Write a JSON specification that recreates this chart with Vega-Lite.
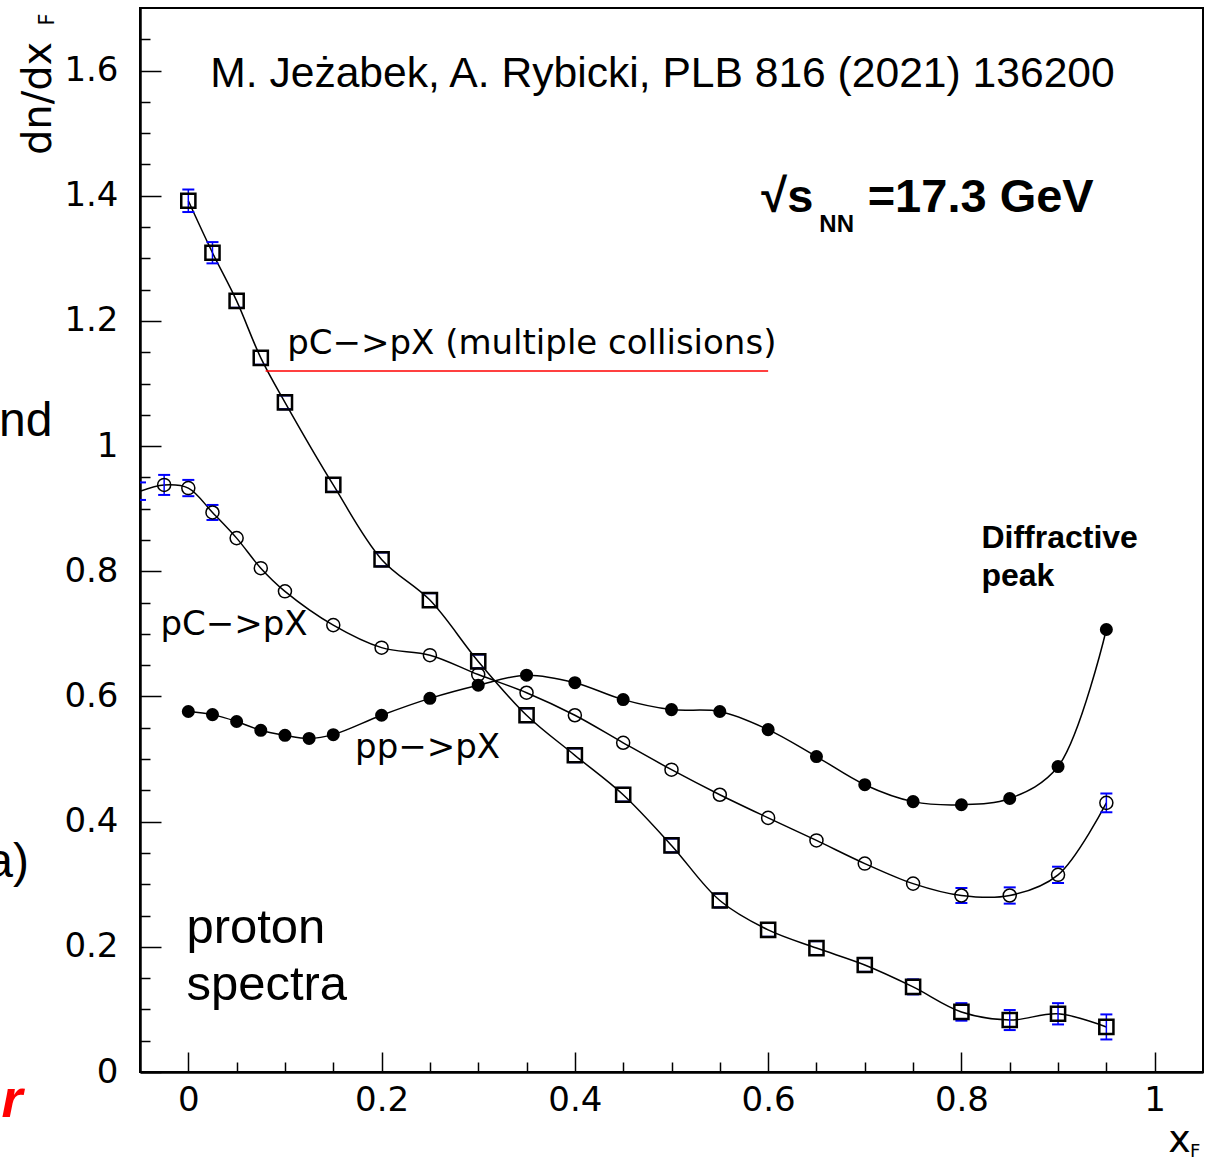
{
  "$schema": "https://vega.github.io/schema/vega-lite/v6.json",
  "width": 1063,
  "height": 1064,
  "autosize": {"type": "none"},
  "padding": {"left": 140, "top": 8, "right": 16, "bottom": 89},
  "background": "white",
  "config": {"view": {"stroke": "black", "strokeWidth": 2}, "axis": {"grid": false}},
  "datasets": {
    "pts": [
      {"s": "sq", "x": 0, "y": 1.392, "lo": 1.374, "hi": 1.410},
      {"s": "sq", "x": 0.025, "y": 1.309, "lo": 1.292, "hi": 1.326},
      {"s": "sq", "x": 0.05, "y": 1.232, "lo": 1.221, "hi": 1.243},
      {"s": "sq", "x": 0.075, "y": 1.141, "lo": 1.130, "hi": 1.152},
      {"s": "sq", "x": 0.1, "y": 1.070, "lo": 1.059, "hi": 1.081},
      {"s": "sq", "x": 0.15, "y": 0.938, "lo": 0.927, "hi": 0.949},
      {"s": "sq", "x": 0.2, "y": 0.819, "lo": 0.808, "hi": 0.830},
      {"s": "sq", "x": 0.25, "y": 0.754, "lo": 0.743, "hi": 0.765},
      {"s": "sq", "x": 0.3, "y": 0.656, "lo": 0.645, "hi": 0.667},
      {"s": "sq", "x": 0.35, "y": 0.570, "lo": 0.559, "hi": 0.581},
      {"s": "sq", "x": 0.4, "y": 0.506, "lo": 0.495, "hi": 0.517},
      {"s": "sq", "x": 0.45, "y": 0.443, "lo": 0.432, "hi": 0.454},
      {"s": "sq", "x": 0.5, "y": 0.362, "lo": 0.351, "hi": 0.373},
      {"s": "sq", "x": 0.55, "y": 0.274, "lo": 0.263, "hi": 0.285},
      {"s": "sq", "x": 0.6, "y": 0.227, "lo": 0.216, "hi": 0.238},
      {"s": "sq", "x": 0.65, "y": 0.198, "lo": 0.187, "hi": 0.209},
      {"s": "sq", "x": 0.7, "y": 0.171, "lo": 0.160, "hi": 0.182},
      {"s": "sq", "x": 0.75, "y": 0.136, "lo": 0.124, "hi": 0.148},
      {"s": "sq", "x": 0.8, "y": 0.096, "lo": 0.082, "hi": 0.110},
      {"s": "sq", "x": 0.85, "y": 0.083, "lo": 0.067, "hi": 0.099},
      {"s": "sq", "x": 0.9, "y": 0.093, "lo": 0.076, "hi": 0.110},
      {"s": "sq", "x": 0.95, "y": 0.072, "lo": 0.052, "hi": 0.092},
      {"s": "oc", "x": -0.05, "y": 0.928, "lo": 0.914, "hi": 0.942, "hide": true},
      {"s": "oc", "x": -0.025, "y": 0.938, "lo": 0.922, "hi": 0.954},
      {"s": "oc", "x": 0, "y": 0.933, "lo": 0.920, "hi": 0.946},
      {"s": "oc", "x": 0.025, "y": 0.894, "lo": 0.882, "hi": 0.906},
      {"s": "oc", "x": 0.05, "y": 0.853},
      {"s": "oc", "x": 0.075, "y": 0.805},
      {"s": "oc", "x": 0.1, "y": 0.768},
      {"s": "oc", "x": 0.15, "y": 0.714},
      {"s": "oc", "x": 0.2, "y": 0.678},
      {"s": "oc", "x": 0.25, "y": 0.666},
      {"s": "oc", "x": 0.3, "y": 0.635},
      {"s": "oc", "x": 0.35, "y": 0.606},
      {"s": "oc", "x": 0.4, "y": 0.570},
      {"s": "oc", "x": 0.45, "y": 0.526},
      {"s": "oc", "x": 0.5, "y": 0.483},
      {"s": "oc", "x": 0.55, "y": 0.443},
      {"s": "oc", "x": 0.6, "y": 0.406},
      {"s": "oc", "x": 0.65, "y": 0.370},
      {"s": "oc", "x": 0.7, "y": 0.333},
      {"s": "oc", "x": 0.75, "y": 0.301},
      {"s": "oc", "x": 0.8, "y": 0.282, "lo": 0.270, "hi": 0.294},
      {"s": "oc", "x": 0.85, "y": 0.282, "lo": 0.269, "hi": 0.295},
      {"s": "oc", "x": 0.9, "y": 0.315, "lo": 0.302, "hi": 0.328},
      {"s": "oc", "x": 0.95, "y": 0.430, "lo": 0.415, "hi": 0.445},
      {"s": "fc", "x": 0, "y": 0.576},
      {"s": "fc", "x": 0.025, "y": 0.571},
      {"s": "fc", "x": 0.05, "y": 0.560},
      {"s": "fc", "x": 0.075, "y": 0.546},
      {"s": "fc", "x": 0.1, "y": 0.538},
      {"s": "fc", "x": 0.125, "y": 0.533},
      {"s": "fc", "x": 0.15, "y": 0.539},
      {"s": "fc", "x": 0.2, "y": 0.570},
      {"s": "fc", "x": 0.25, "y": 0.597},
      {"s": "fc", "x": 0.3, "y": 0.618},
      {"s": "fc", "x": 0.35, "y": 0.634},
      {"s": "fc", "x": 0.4, "y": 0.622},
      {"s": "fc", "x": 0.45, "y": 0.595},
      {"s": "fc", "x": 0.5, "y": 0.579},
      {"s": "fc", "x": 0.55, "y": 0.576},
      {"s": "fc", "x": 0.6, "y": 0.547},
      {"s": "fc", "x": 0.65, "y": 0.504},
      {"s": "fc", "x": 0.7, "y": 0.459},
      {"s": "fc", "x": 0.75, "y": 0.432},
      {"s": "fc", "x": 0.8, "y": 0.427},
      {"s": "fc", "x": 0.85, "y": 0.437},
      {"s": "fc", "x": 0.9, "y": 0.488},
      {"s": "fc", "x": 0.95, "y": 0.707}
    ]
  },
  "encoding": {
    "x": {"field": "x", "type": "quantitative", "scale": {"domain": [-0.05, 1.05], "nice": false, "zero": false}, "axis": null},
    "y": {"field": "y", "type": "quantitative", "scale": {"domain": [0, 1.7], "nice": false, "zero": false}, "axis": null}
  },
  "layer": [
    {
      "data": {"name": "pts"},
      "mark": {"type": "line", "interpolate": "catmull-rom", "color": "black", "strokeWidth": 1.5, "clip": true},
      "encoding": {
        "x": {"field": "x", "type": "quantitative", "scale": {"domain": [-0.05, 1.05], "nice": false, "zero": false},
          "axis": {"orient": "bottom", "values": [0, 0.2, 0.4, 0.6, 0.8, 1], "format": "~g", "title": null,
            "tickSize": -20, "tickWidth": 1.5, "tickColor": "black", "domainColor": "black", "domainWidth": 2.5,
            "labelFont": "DejaVu Sans", "labelFontSize": 34, "labelColor": "black", "labelPadding": 31,
            "labelFlush": false, "labelOverlap": false}},
        "y": {"field": "y", "type": "quantitative", "scale": {"domain": [0, 1.7], "nice": false, "zero": false},
          "axis": {"orient": "left", "values": [0, 0.2, 0.4, 0.6, 0.8, 1, 1.2, 1.4, 1.6], "format": "~g", "title": null,
            "tickSize": -21, "tickWidth": 1.5, "tickColor": "black", "domainColor": "black", "domainWidth": 2.5,
            "labelFont": "DejaVu Sans", "labelFontSize": 34, "labelColor": "black", "labelPadding": 43,
            "labelFlush": false, "labelOverlap": false}},
        "detail": {"field": "s"}
      }
    },
    {
      "data": {"values": [{"x": 0.08, "x2": 0.6, "y": 1.12}]},
      "mark": {"type": "rule", "color": "#ff0000", "strokeWidth": 1.5},
      "encoding": {
        "x": {"field": "x", "type": "quantitative", "scale": {"domain": [-0.05, 1.05], "nice": false, "zero": false},
          "axis": {"orient": "bottom", "values": [0.05, 0.1, 0.15, 0.25, 0.3, 0.35, 0.45, 0.5, 0.55, 0.65, 0.7, 0.75, 0.85, 0.9, 0.95],
            "labels": false, "domain": false, "title": null, "tickSize": -10, "tickWidth": 1.5, "tickColor": "black"}},
        "x2": {"field": "x2"},
        "y": {"field": "y", "type": "quantitative", "scale": {"domain": [0, 1.7], "nice": false, "zero": false},
          "axis": {"orient": "left", "values": [0.05, 0.1, 0.15, 0.25, 0.3, 0.35, 0.45, 0.5, 0.55, 0.65, 0.7, 0.75, 0.85, 0.9, 0.95, 1.05, 1.1, 1.15, 1.25, 1.3, 1.35, 1.45, 1.5, 1.55, 1.65],
            "labels": false, "domain": false, "title": null, "tickSize": -10, "tickWidth": 1.5, "tickColor": "black"}}
      }
    },
    {
      "data": {"name": "pts"},
      "transform": [{"filter": "isValid(datum.lo) && datum.hi - datum.lo > 0.03"}],
      "mark": {"type": "rule", "color": "#0000ff", "strokeWidth": 1.5, "clip": true},
      "encoding": {"y": {"field": "lo", "type": "quantitative", "scale": {"domain": [0, 1.7], "nice": false, "zero": false}, "axis": null}, "y2": {"field": "hi"}}
    },
    {
      "data": {"name": "pts"},
      "transform": [{"filter": "isValid(datum.lo)"}],
      "mark": {"type": "tick", "orient": "horizontal", "size": 12, "thickness": 2, "color": "#0000ff", "opacity": 1, "clip": true},
      "encoding": {"y": {"field": "lo", "type": "quantitative", "scale": {"domain": [0, 1.7], "nice": false, "zero": false}, "axis": null}}
    },
    {
      "data": {"name": "pts"},
      "transform": [{"filter": "isValid(datum.hi)"}],
      "mark": {"type": "tick", "orient": "horizontal", "size": 12, "thickness": 2, "color": "#0000ff", "opacity": 1, "clip": true},
      "encoding": {"y": {"field": "hi", "type": "quantitative", "scale": {"domain": [0, 1.7], "nice": false, "zero": false}, "axis": null}}
    },
    {
      "data": {"name": "pts"},
      "transform": [{"filter": "datum.s == 'sq'"}],
      "mark": {"type": "point", "shape": "square", "filled": false, "color": "black", "strokeWidth": 2.5, "size": 200, "opacity": 1}
    },
    {
      "data": {"name": "pts"},
      "transform": [{"filter": "datum.s == 'oc' && !datum.hide"}],
      "mark": {"type": "point", "shape": "circle", "filled": false, "color": "black", "strokeWidth": 1.5, "size": 170, "opacity": 1}
    },
    {
      "data": {"name": "pts"},
      "transform": [{"filter": "datum.s == 'fc'"}],
      "mark": {"type": "point", "shape": "circle", "filled": true, "color": "black", "size": 170, "opacity": 1}
    },
    {
      "data": {"values": [{"x": 0.0227, "y": 1.574, "t": "M. Jeżabek, A. Rybicki, PLB 816 (2021) 136200"}]},
      "mark": {"type": "text", "align": "left", "baseline": "alphabetic", "font": "Liberation Sans", "fontSize": 42.6, "color": "black"},
      "encoding": {"text": {"field": "t"}}
    },
    {
      "data": {"values": [{"x": 0.593, "y": 1.374, "t": "√s"}, {"x": 0.703, "y": 1.374, "t": "=17.3 GeV"}]},
      "mark": {"type": "text", "align": "left", "baseline": "alphabetic", "font": "Liberation Sans", "fontSize": 47, "fontWeight": "bold", "color": "black"},
      "encoding": {"text": {"field": "t"}}
    },
    {
      "data": {"values": [{"x": 0.653, "y": 1.342, "t": "NN"}]},
      "mark": {"type": "text", "align": "left", "baseline": "alphabetic", "font": "Liberation Sans", "fontSize": 24, "fontWeight": "bold", "color": "black"},
      "encoding": {"text": {"field": "t"}}
    },
    {
      "data": {"values": [{"x": 0.1023, "y": 1.147, "t": "pC−>pX (multiple collisions)"}, {"x": -0.0289, "y": 0.699, "t": "pC−>pX"}, {"x": 0.1726, "y": 0.502, "t": "pp−>pX"}]},
      "mark": {"type": "text", "align": "left", "baseline": "alphabetic", "font": "DejaVu Sans", "fontSize": 34, "color": "black"},
      "encoding": {"text": {"field": "t"}}
    },
    {
      "data": {"values": [{"x": 0.8207, "y": 0.838, "t": "Diffractive"}, {"x": 0.8207, "y": 0.776, "t": "peak"}]},
      "mark": {"type": "text", "align": "left", "baseline": "alphabetic", "font": "Liberation Sans", "fontSize": 32, "fontWeight": "bold", "color": "black"},
      "encoding": {"text": {"field": "t"}}
    },
    {
      "data": {"values": [{"x": -0.002, "y": 0.2064, "t": "proton"}, {"x": -0.002, "y": 0.1152, "t": "spectra"}]},
      "mark": {"type": "text", "align": "left", "baseline": "alphabetic", "font": "Liberation Sans", "fontSize": 49, "color": "black"},
      "encoding": {"text": {"field": "t"}}
    },
    {
      "data": {"values": [{"x": -0.1426, "y": 1.465, "t": "dn/dx"}]},
      "mark": {"type": "text", "align": "left", "baseline": "alphabetic", "angle": 270, "font": "DejaVu Sans", "fontSize": 40, "color": "black"},
      "encoding": {"text": {"field": "t"}}
    },
    {
      "data": {"values": [{"x": -0.1385, "y": 1.672, "t": "F"}]},
      "mark": {"type": "text", "align": "left", "baseline": "alphabetic", "angle": 270, "font": "DejaVu Sans", "fontSize": 21, "color": "black"},
      "encoding": {"text": {"field": "t"}}
    },
    {
      "data": {"values": [{"x": 1.014, "y": -0.128, "t": "x"}]},
      "mark": {"type": "text", "align": "left", "baseline": "alphabetic", "font": "DejaVu Sans", "fontSize": 38, "color": "black"},
      "encoding": {"text": {"field": "t"}}
    },
    {
      "data": {"values": [{"x": 1.0365, "y": -0.136, "t": "F"}]},
      "mark": {"type": "text", "align": "left", "baseline": "alphabetic", "font": "DejaVu Sans", "fontSize": 18, "color": "black"},
      "encoding": {"text": {"field": "t"}}
    },
    {
      "data": {"values": [{"x": -0.1406, "y": 1.016, "t": "nd"}, {"x": -0.165, "y": 0.312, "t": "a)"}]},
      "mark": {"type": "text", "align": "right", "baseline": "alphabetic", "font": "Liberation Sans", "fontSize": 48, "color": "black"},
      "encoding": {"text": {"field": "t"}}
    },
    {
      "data": {"values": [{"x": -0.1716, "y": -0.072, "t": "r"}]},
      "mark": {"type": "text", "align": "right", "baseline": "alphabetic", "font": "Liberation Sans", "fontSize": 54, "fontWeight": "bold", "fontStyle": "italic", "color": "#ff0000"},
      "encoding": {"text": {"field": "t"}}
    }
  ],
  "resolve": {"axis": {"x": "independent", "y": "independent"}}
}
